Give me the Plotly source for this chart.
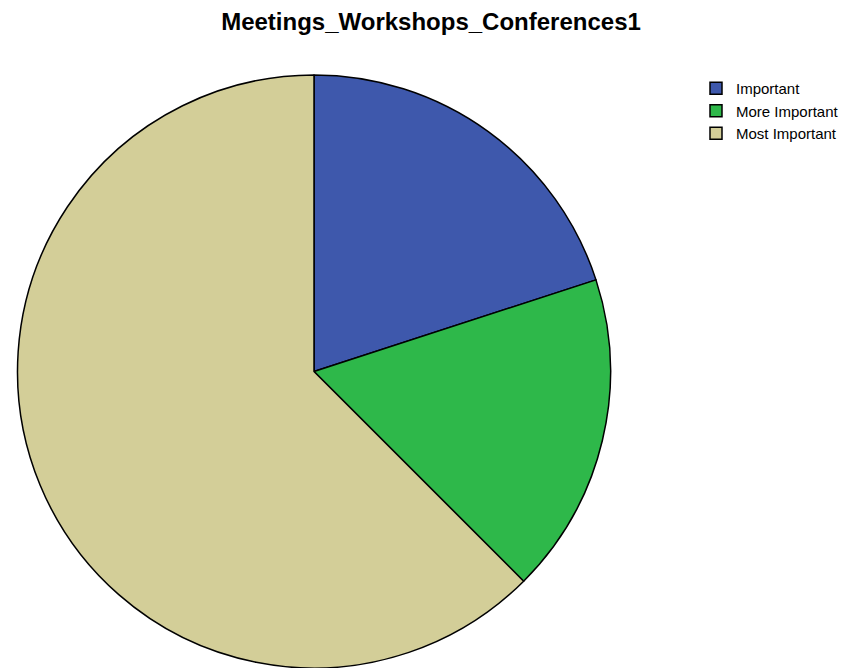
import plotly.graph_objects as go

# Response counts per importance level
categories = ["Important", "More Important", "Most Important"]
counts = [8, 7, 25]
colors = ["#3E58AC", "#2EB84A", "#D3CE98"]

W, H = 845, 668
cx, cy, r = 314, 372, 297

fig = go.Figure(
    go.Pie(
        labels=categories,
        values=counts,
        sort=False,
        direction="clockwise",
        rotation=0,
        textinfo="none",
        hoverinfo="label+value+percent",
        marker=dict(colors=colors, line=dict(color="black", width=1.5)),
        domain=dict(
            x=[(cx - r) / W, (cx + r) / W],
            y=[max(0, (H - (cy + r)) / H), (H - (cy - r)) / H],
        ),
    )
)

fig.update_layout(
    width=W,
    height=H,
    margin=dict(l=0, r=0, t=0, b=0),
    paper_bgcolor="white",
    plot_bgcolor="white",
    font=dict(family="Liberation Sans, Arial, sans-serif", color="black"),
    title=dict(
        text="<b>Meetings_Workshops_Conferences1</b>",
        x=431 / W,
        xanchor="center",
        y=1 - 22 / H,
        yanchor="middle",
        font=dict(size=24, color="black"),
    ),
    legend=dict(
        x=696 / W,
        y=1 - 72 / H,
        xanchor="left",
        yanchor="top",
        font=dict(size=15, color="black"),
        itemwidth=30,
        tracegroupgap=0,
        bgcolor="rgba(0,0,0,0)",
    ),
)

fig.write_html("out.html")
